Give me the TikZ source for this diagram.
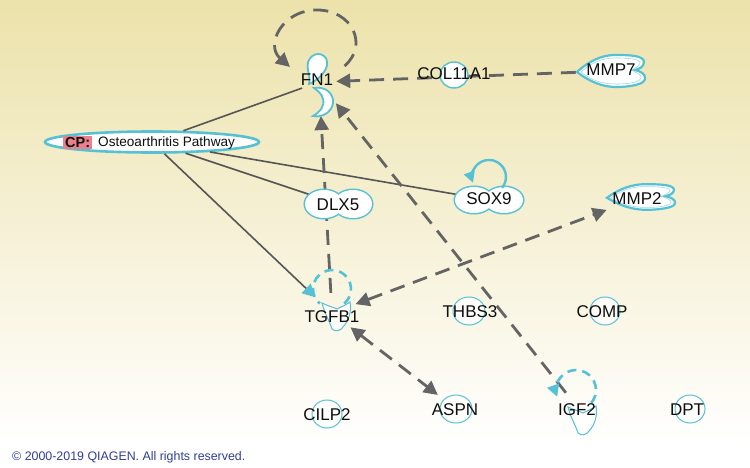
\documentclass[tikz,border=0pt]{standalone}
\usepackage{fontspec}
\setmainfont{Liberation Sans}
\usetikzlibrary{arrows.meta,shapes.geometric}
\definecolor{edgegray}{RGB}{100,100,100}
\definecolor{linegray}{RGB}{85,85,85}
\definecolor{cyanl}{RGB}{86,192,212}
\definecolor{bgtop}{RGB}{236,226,170}
\definecolor{cpred}{RGB}{236,128,138}
\definecolor{qblue}{RGB}{48,62,150}
\definecolor{txt}{RGB}{15,15,15}
\begin{document}
\begin{tikzpicture}[x=1pt,y=-1pt,
  hole/.style={ellipse, draw=none, inner sep=0pt},
  lbl/.style={font=\fontsize{17}{19}\selectfont, text=txt, inner sep=0pt},
  cplbl/.style={font=\fontsize{13.6}{15}\selectfont, text=txt, inner sep=0pt},
  sline/.style={draw=linegray, line width=1.6pt},
  dline/.style={draw=edgegray, line width=2.8pt, dash pattern=on 15pt off 9pt},
  gtip/.style={-{Triangle[length=14pt,width=14pt]}},
  gboth/.style={{Triangle[length=14pt,width=14pt]}-{Triangle[length=14pt,width=14pt]}},
  ctip/.style={-{Triangle[length=13pt,width=13pt,color=cyanl]}},
  cloopd/.style={draw=cyanl, line width=2.6pt, dash pattern=on 9pt off 6pt},
  cloops/.style={draw=cyanl, line width=2.4pt},
  blobline/.style={draw=cyanl, line width=1.8pt, fill=white},
  faint/.style={draw=cyanl, line width=1pt, fill=white, fill opacity=0.75},
  mmpshape/.pic={
    \path[blobline, line width=2.2pt] (-34,1) .. controls (-21,-11) and (-8,-16) .. (4,-16)
      .. controls (16,-16) and (33,-16) .. (33,-9) .. controls (33,-4) and (28,-2) .. (24,-1)
      .. controls (29,0) and (35,3) .. (34,8) .. controls (33,14) and (17,16) .. (5,16)
      .. controls (-8,16) and (-21,11) .. (-34,1) -- cycle;
    \path[draw=cyanl!60, line width=0.6pt] (-30,1) .. controls (-19,-9) and (-8,-13) .. (4,-13)
      .. controls (17,-13) and (30,-12) .. (29,-8) .. controls (28,-4) and (23,-2) .. (20,-1)
      .. controls (25,1) and (31,4) .. (30,7) .. controls (28,12) and (16,13) .. (5,13)
      .. controls (-8,13) and (-19,10) .. (-30,1) -- cycle;
  },
  yshape/.pic={
    \path[faint] (-15,-6) .. controls (-9,-3) and (-4,-2) .. (0,0)
      .. controls (4,-2) and (9,-4) .. (13,-7) .. controls (15,3) and (11,13) .. (6,18)
      .. controls (4,22) and (-2,23) .. (-5,20) .. controls (-7,13) and (-13,3) .. (-15,-6) -- cycle;
  }
]
\useasboundingbox (0,0) rectangle (750,468);
\shade[top color=bgtop, bottom color=white] (0,0) rectangle (750,445);
\fill[white] (0,445) rectangle (750,468);

% ---- node boundaries ----
\node[hole, minimum width=34pt, minimum height=58pt] (fn1) at (319,82) {};
\node[hole, minimum width=30pt, minimum height=27pt] (col) at (454,75) {};
\node[hole, minimum width=70pt, minimum height=31pt] (mmp7) at (611,71) {};
\node[ellipse, draw=cyanl, line width=2.6pt, fill=white, inner sep=0pt,
      minimum width=214pt, minimum height=21pt] (cp) at (152,142) {};
\node[hole, minimum width=67pt, minimum height=28pt] (dlx5) at (338,204) {};
\node[hole, minimum width=68pt, minimum height=26pt] (sox9) at (489,200) {};
\node[hole, minimum width=68pt, minimum height=25pt] (mmp2) at (641,197) {};
\node[hole, minimum width=52pt, minimum height=40pt] (tgfb1) at (332,313) {};
\node[hole, minimum width=32pt, minimum height=28pt] (thbs3) at (469,311) {};
\node[hole, minimum width=30pt, minimum height=28pt] (comp) at (605,311) {};
\node[hole, minimum width=30pt, minimum height=28pt] (cilp2) at (327,414) {};
\node[hole, minimum width=50pt, minimum height=40pt] (aspn) at (456,409) {};
\node[hole, minimum width=44pt, minimum height=36pt] (igf2) at (578,408) {};
\node[hole, minimum width=30pt, minimum height=28pt] (dpt) at (690,409) {};

\coordinate (fn1la) at (344.5,66);
\coordinate (fn1lb) at (290,67);
\coordinate (tgla) at (344.2,303.6);
\coordinate (igla) at (591.3,402.9);
\coordinate (sxla) at (502,187.9);

% ---- connectors ----
\draw[sline] (cp) -- (fn1);
\draw[sline] (cp) -- (dlx5);
\draw[sline] (cp) -- (sox9);
\draw[sline, ctip] (cp) -- (tgfb1);
\draw[dline, gtip, shorten >=5pt] (tgfb1) -- (fn1);
\draw[dline, gtip, shorten >=5pt] (igf2) -- (fn1);
\draw[dline, gtip] (mmp7) -- (fn1);
\draw[dline, gboth, shorten >=11pt] (tgfb1) -- (mmp2);
\draw[dline, gboth] (tgfb1) -- (aspn);
\draw[dline, gtip] (fn1la) .. controls (369,45) and (352,10) .. (317,10)
      .. controls (282,10) and (265,45) .. (fn1lb);

% ---- shapes ----
% FN1
\path[blobline] (318,54) .. controls (327,54) and (330,64) .. (324,72)
  .. controls (320,78) and (314,82) .. (309,84) .. controls (311,76) and (306,68) .. (308,62)
  .. controls (310,57) and (314,54) .. (318,54) -- cycle;
\path[blobline] (314,88) .. controls (326,86) and (334,94) .. (333,103)
  .. controls (332,112) and (322,118) .. (313,116) .. controls (320,112) and (325,106) .. (323,99)
  .. controls (322,94) and (318,91) .. (314,88) -- cycle;
% COL11A1
\path[blobline, line width=1.4pt] (col.center) ellipse[x radius=14, y radius=13];
% MMP7, MMP2
\pic at (mmp7.center) {mmpshape};
\pic[yscale=0.8] at (mmp2.center) {mmpshape};
% DLX5
\draw[cyanl, line width=3pt] (324,204) ellipse[x radius=19, y radius=14] (353,204) ellipse[x radius=19, y radius=14];
\fill[white] (324,204) ellipse[x radius=19, y radius=14] (353,204) ellipse[x radius=19, y radius=14];
% SOX9
\draw[cyanl, line width=3pt] (474,200) ellipse[x radius=19, y radius=13] (504,200) ellipse[x radius=19, y radius=13];
\fill[white] (474,200) ellipse[x radius=19, y radius=13] (504,200) ellipse[x radius=19, y radius=13];
% small round blobs
\path[faint] (thbs3.center) ellipse[x radius=16, y radius=14];
\path[faint] (comp.center) ellipse[x radius=15, y radius=14];
\path[faint] (cilp2.center) ellipse[x radius=15, y radius=14];
\path[faint] (aspn.center) ellipse[x radius=16, y radius=14];
\path[faint] (dpt.center) ellipse[x radius=15, y radius=14];
% loops
\draw[cloopd] (tgla) arc[start angle=50, end angle=-230, radius=19];
\draw[cloopd, -{Triangle[length=12pt,width=12pt]}] (igla) arc[start angle=40, end angle=-200, radius=20];
\draw[cloops, -{Triangle[length=11pt,width=11pt]}] (sxla) arc[start angle=40, end angle=-200, radius=17];
% Y shapes
\pic at (337,309) {yshape};
\pic at (583,413) {yshape};

% ---- labels ----
\node[lbl] (fn1t) at (317,80) {FN1};
\node[lbl] (colt) at (454,74) {COL11A1};
\node[lbl] (mmp7t) at (611,70) {MMP7};
\node[lbl] (dlx5t) at (338,205) {DLX5};
\node[lbl] (sox9t) at (489,199) {SOX9};
\node[lbl] (mmp2t) at (637,199) {MMP2};
\node[lbl] (tgfb1t) at (332,317) {TGFB1};
\node[lbl] (thbs3t) at (470,312) {THBS3};
\node[lbl] (compt) at (602,312) {COMP};
\node[lbl] (cilp2t) at (327,415) {CILP2};
\node[lbl] (aspnt) at (455,410) {ASPN};
\node[lbl] (igf2t) at (577,410) {IGF2};
\node[lbl] (dptt) at (687,410) {DPT};
\node[cplbl, fill=cpred, inner xsep=2pt, inner ysep=1.8pt, anchor=west, font=\fontsize{14.5}{16}\selectfont\bfseries] (cpl) at (63,142.5) {CP:};
\node[cplbl, anchor=west] (cpt) at (98,142.5) {Osteoarthritis Pathway};
\node[anchor=west, inner sep=0pt, text=qblue, font=\fontsize{12.4}{14}\selectfont] (copy) at (12,457) {© 2000-2019 QIAGEN. All rights reserved.};
\end{tikzpicture}
\end{document}
